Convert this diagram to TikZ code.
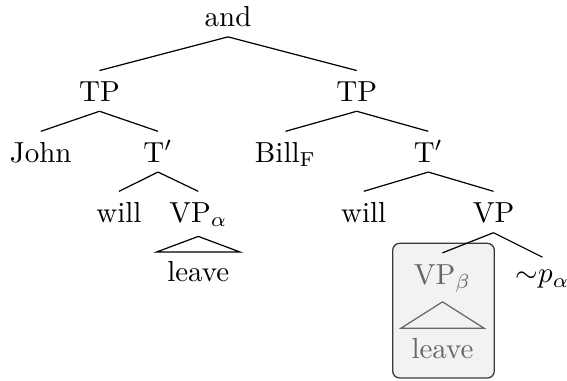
\documentclass[tikz,border=0pt]{standalone}
\usepackage{tikz}
\definecolor{boxfill}{HTML}{F3F2F0}
\definecolor{boxline}{HTML}{3A3A3A}
\definecolor{boxtext}{HTML}{666666}
\tikzset{
  cat/.style={anchor=base, inner sep=3.1pt, text height=7.45pt},
  leafnode/.style={anchor=base, inner ysep=3.1pt, inner xsep=3.5pt},
  branch/.style={line width=0.42pt},
  shaded/.style={boxtext},
  focusbox/.style={draw=boxline, fill=boxfill, rounded corners=2.4pt, line width=0.45pt}
}
\begin{document}
\begin{tikzpicture}[x=0.345pt, y=-0.345pt]
\useasboundingbox (0,0) rectangle (567,381);

% shaded box behind the elided VP
\path[focusbox] (392.7,243.3) rectangle (494.3,378);

% nodes, placed on their baselines
\node[cat] (and)   at (228,27)      {and};
\node[cat] (tpL)   at (99.5,101.7)  {TP};
\node[cat] (tpR)   at (356.7,101.7) {TP};
\node[cat] (john)  at (40.8,162.5)  {John};
\node[cat] (tbL)   at (158,162.5)   {T$'$};
\node[cat] (bill)  at (285.5,162.5) {Bill$_{\mathrm{F}}$};
\node[cat] (tbR)   at (428.3,162.5) {T$'$};
\node[cat] (willL) at (119,222.5)   {will};
\node[cat] (vpa)   at (198.3,222.5) {VP$_{\alpha}$};
\node[cat] (willR) at (363.7,222.5) {will};
\node[cat] (vpR)   at (493.5,222.5) {VP};
\node[leafnode] (leaveL) at (198.3,281.7) {leave};
\node[cat, shaded] (vpb) at (442.5,284) {VP$_{\beta}$};
\node[cat, text height=5.6pt] (notp) at (542.5,283) {${\sim}p_{\alpha}$};
\node[leafnode, shaded] (leaveR) at (442.5,358) {leave};

% branches
\draw[branch] (and.south) -- (tpL.north);
\draw[branch] (and.south) -- (tpR.north);
\draw[branch] (tpL.south) -- (john.north);
\draw[branch] (tpL.south) -- (tbL.north);
\draw[branch] (tpR.south) -- (bill.north);
\draw[branch] (tpR.south) -- (tbR.north);
\draw[branch] (tbL.south) -- (willL.north);
\draw[branch] (tbL.south) -- (vpa.north);
\draw[branch] (tbR.south) -- (willR.north);
\draw[branch] (tbR.south) -- (vpR.north);
\draw[branch] (vpR.south) -- (vpb.north);
\draw[branch] (vpR.south) -- (notp.north);

% roofs over the unanalysed constituents
\draw[branch] (vpa.south) -- (leaveL.north east) -- (leaveL.north west) -- cycle;
\draw[branch, boxtext] (vpb.south) -- (leaveR.north east) -- (leaveR.north west) -- cycle;
\end{tikzpicture}
\end{document}
